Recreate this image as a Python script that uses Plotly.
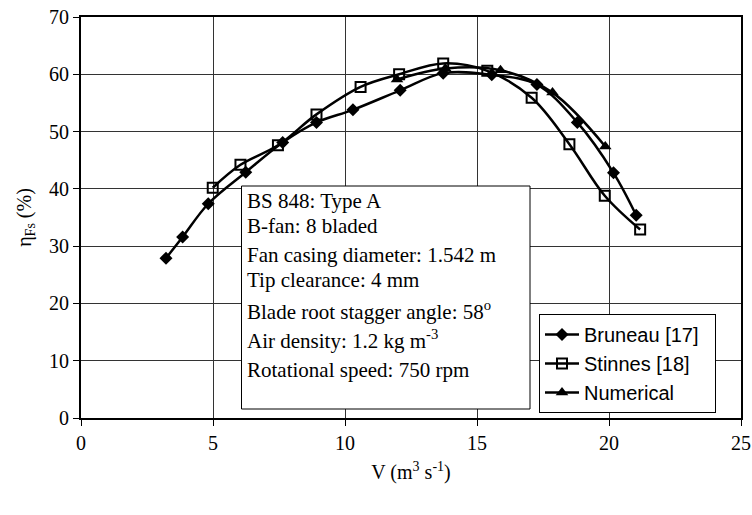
import plotly.graph_objects as go

# ---- data ----
bruneau_x = [3.22, 3.85, 4.82, 6.24, 7.64, 8.92, 10.3, 12.09, 13.72, 15.56, 17.27, 18.8, 20.17, 21.03]
bruneau_y = [27.9, 31.6, 37.4, 42.9, 48.1, 51.6, 53.8, 57.2, 60.2, 59.9, 58.2, 51.6, 42.8, 35.4]

stinnes_x = [4.99, 6.04, 7.46, 8.92, 10.59, 12.05, 13.72, 15.39, 17.07, 18.5, 19.84, 21.18]
stinnes_y = [40.2, 44.2, 47.6, 53.0, 57.8, 60.0, 61.9, 60.6, 55.9, 47.8, 38.8, 32.9]

numerical_x = [11.97, 13.8, 15.89, 17.86, 19.86]
numerical_y = [59.1, 61.0, 60.7, 56.8, 47.4]

x_ticks = [0, 5, 10, 15, 20, 25]
y_ticks = [0, 10, 20, 30, 40, 50, 60, 70]

info_lines = [
    "BS 848: Type A",
    "B-fan: 8 bladed",
    "Fan casing diameter: 1.542 m",
    "Tip clearance: 4 mm",
    "Blade root stagger angle: 58<sup>o</sup>",
    "Air density: 1.2 kg m<sup>-3</sup>",
    "Rotational speed: 750 rpm",
]

SERIF = "Times New Roman, Liberation Serif, serif"
SANS = "Arial, Liberation Sans, sans-serif"

W, H = 752, 515
L, R, T, B = 81, 11, 17, 97
PW, PH = W - L - R, H - T - B


def px(xp):
    return (xp - L) / PW


def py(yp):
    return (H - B - yp) / PH


fig = go.Figure()
line_style = dict(color="black", width=2.5, shape="spline", smoothing=1)
fig.add_trace(go.Scatter(x=bruneau_x, y=bruneau_y, mode="lines+markers", name="Bruneau [17]  ",
                         line=line_style,
                         marker=dict(symbol="diamond", size=10, color="black")))
fig.add_trace(go.Scatter(x=stinnes_x, y=stinnes_y, mode="lines+markers", name="Stinnes [18]",
                         line=line_style,
                         marker=dict(symbol="square-open", size=10, color="black",
                                     line=dict(width=2, color="black"))))
fig.add_trace(go.Scatter(x=numerical_x, y=numerical_y, mode="lines+markers", name="Numerical",
                         line=line_style,
                         marker=dict(symbol="triangle-up", size=11, color="black")))

# info box
fig.add_shape(type="rect", xref="paper", yref="paper",
              x0=px(241.5), x1=px(530), y0=py(409), y1=py(186),
              line=dict(color="black", width=1), fillcolor="white", layer="above")

line_centers = [201, 226, 255, 280, 310, 339, 370]
for txt, yc in zip(info_lines, line_centers):
    fig.add_annotation(text=txt, xref="paper", yref="paper", x=px(245), y=py(yc),
                       xanchor="left", yanchor="middle", showarrow=False,
                       font=dict(family=SERIF, size=21, color="black"))

fig.update_layout(
    width=W, height=H,
    margin=dict(l=L, r=R, t=T, b=B, autoexpand=False),
    paper_bgcolor="white", plot_bgcolor="white",
    font=dict(family=SERIF, size=20, color="black"),
    showlegend=True,
    legend=dict(x=px(539), y=py(314), xanchor="left", yanchor="top",
                bordercolor="black", borderwidth=1, bgcolor="white",
                font=dict(family=SANS, size=20, color="black"),
                itemwidth=34, tracegroupgap=0),
)

fig.update_xaxes(range=[0, 25], tickvals=x_ticks, ticktext=[str(v) for v in x_ticks],
                 showgrid=True, gridcolor="#333", gridwidth=1,
                 showline=True, linecolor="black", linewidth=2, mirror=True,
                 ticks="outside", ticklen=6, tickcolor="black", tickwidth=1,
                 zeroline=False, ticklabeloverflow="allow", automargin=False,
                 tickfont=dict(family=SERIF, size=20),
                 title=dict(text="V (m<sup>3</sup> s<sup>-1</sup>)",
                            font=dict(family=SERIF, size=20), standoff=12))
fig.update_yaxes(range=[0, 70], tickvals=y_ticks, ticktext=[str(v) for v in y_ticks],
                 showgrid=True, gridcolor="#333", gridwidth=1,
                 showline=True, linecolor="black", linewidth=2, mirror=True,
                 ticks="outside", ticklen=6, tickcolor="black", tickwidth=1,
                 zeroline=False, ticklabeloverflow="allow", automargin=False,
                 tickfont=dict(family=SERIF, size=20),
                 title=dict(text="η<sub>Fs</sub> (%)",
                            font=dict(family=SERIF, size=20), standoff=12))

fig.write_html("out.html")
